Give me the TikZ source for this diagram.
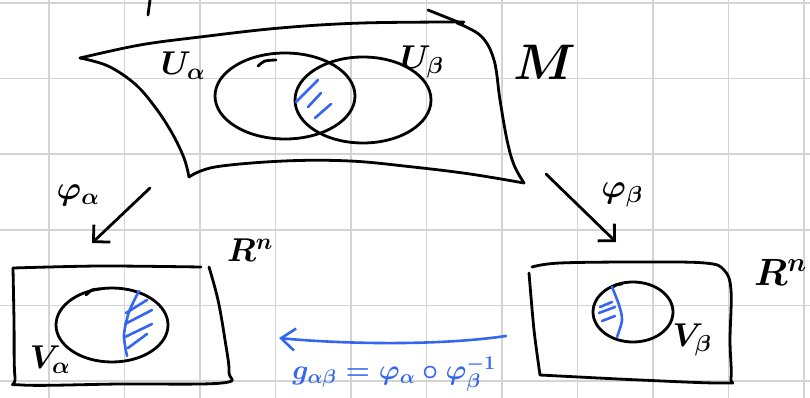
\documentclass[tikz,border=0pt]{standalone}
\usepackage{fix-cm}
\usetikzlibrary{arrows.meta}
\definecolor{ink}{RGB}{52,102,240}
\definecolor{gridc}{RGB}{212,212,212}
\begin{document}
\begin{tikzpicture}[x=1pt,y=-1pt,
  stroke/.style={line width=2.8pt, line cap=round, line join=round, black},
  bluestroke/.style={line width=2.6pt, line cap=round, line join=round, draw=ink},
  lbl/.style={inner sep=0pt, font=\fontsize{33}{36}\selectfont\boldmath},
  biglbl/.style={inner sep=0pt, font=\fontsize{50}{56}\selectfont\boldmath},
  bluelbl/.style={inner sep=0pt, text=ink, font=\fontsize{28}{30}\selectfont\boldmath},
  mapto/.style={stroke, -{Straight Barb[length=12pt,width=24pt]}},
]
\useasboundingbox (0,0) rectangle (810,398);
\clip (0,0) rectangle (810,398);
\fill[white] (0,0) rectangle (810,398);
% grid paper
\foreach \i in {0,...,10} {\draw[gridc, line width=1.6pt] ({49+75.5*\i},0) -- ({49+75.5*\i},398);}
\foreach \j in {0,...,5} {\draw[gridc, line width=1.6pt] (0,{3+75.6*\j}) -- (810,{3+75.6*\j});}

% stray mark at top
\draw[stroke] (150,0) -- (148,15);

% manifold M
\draw[stroke] plot[smooth, tension=0.6] coordinates {(80,58) (140,45) (200,37) (280,28) (362,23) (464,22)};
\draw[stroke] (428,10) -- (463,24);
\draw[stroke] plot[smooth, tension=0.6] coordinates {(457,23) (481,36) (494,60) (500,100) (507,140) (514,165) (524,183)};
\draw[stroke] plot[smooth, tension=0.6] coordinates {(189,177) (215,167) (284,161) (350,161) (413,167) (470,174) (524,183)};
\draw[stroke] plot[smooth, tension=0.6] coordinates {(80,58) (108,66) (135,84) (155,107) (172,133) (184,158) (189,177)};

% U_alpha and U_beta
\draw[stroke] (285,96) ellipse [x radius=70pt, y radius=43pt];
\draw[stroke] (363,100) ellipse [x radius=68pt, y radius=43pt];
\draw[stroke] plot[smooth] coordinates {(258,66) (265,61) (276,60)};
% overlap hatching
\draw[bluestroke] (318,80) -- (296,102);
\draw[bluestroke] (321,93) -- (308,107);
\draw[bluestroke] (331,104) -- (315,118);

\node[lbl] (ua) at (183,66) {$U_{\alpha}$};
\node[lbl] (ub) at (422,62) {$U_{\beta}$};
\node[biglbl] (m) at (545,62) {$M$};

% maps
\coordinate (pa1) at (150,188);
\coordinate (pa2) at (92,243);
\draw[mapto] (pa1) -- (pa2);
\node[lbl] (phia) at (78,195) {$\varphi_{\alpha}$};
\coordinate (pb1) at (546,174);
\coordinate (pb2) at (616,242);
\draw[mapto] (pb1) -- (pb2);
\node[lbl] (phib) at (622,195) {$\varphi_{\beta}$};

% left R^n box
\draw[stroke] plot[smooth] coordinates {(13,268) (100,266) (201,267)};
\draw[stroke] plot[smooth, tension=0.6] coordinates {(209,267) (218,300) (225,340) (229,372) (222,383) (120,384) (22,385) (15,377) (14,320) (13,268)};
\node[lbl] (rl) at (250,250) {$R^{n}$};
\draw[stroke] (112,325) ellipse [x radius=56pt, y radius=37pt];
\draw[stroke] plot[smooth] coordinates {(86,295) (92,290) (100,289)};
\draw[bluestroke] plot[smooth] coordinates {(139,291) (129,312) (124,335) (127,356)};
\draw[bluestroke] (126,313) -- (147,300);
\draw[bluestroke] (125,324) -- (152,310);
\draw[bluestroke] (125,337) -- (152,324);
\draw[bluestroke] (128,348) -- (147,334);
\node[lbl] (va) at (50,360) {$V_{\alpha}$};

% right R^n box
\draw[stroke] plot[smooth, tension=0.6] coordinates {(532,267) (560,263) (640,262) (705,263) (724,270) (731,290) (730,340) (731,378) (724,383) (640,380) (540,375)};
\draw[stroke] plot[smooth] coordinates {(529,273) (534,330) (540,375)};
\node[lbl, font=\fontsize{38}{42}\selectfont\boldmath, anchor=east] (rr) at (807,272) {$R^{n}$};
\draw[stroke] (633,312) ellipse [x radius=40pt, y radius=30pt];
\draw[stroke] plot[smooth] coordinates {(612,288) (616,285) (622,284)};
\draw[bluestroke] plot[smooth] coordinates {(612,287) (619,305) (622,320) (617,337)};
\draw[bluestroke] (600,307) -- (612,302);
\draw[bluestroke] (599,313) -- (615,307);
\draw[bluestroke] (602,321) -- (615,316);
\node[lbl] (vb) at (692,340) {$V_{\beta}$};

% transition map
\coordinate (g1) at (506,336);
\coordinate (g2) at (279,338);
\draw[bluestroke, -{Straight Barb[length=14pt,width=22pt]}] (g1) .. controls (430,347) and (330,343) .. (g2);
\node[bluelbl] (glbl) at (394,374) {$g_{\alpha\beta}=\varphi_{\alpha}\circ\varphi_{\beta}^{-1}$};
\end{tikzpicture}
\end{document}
